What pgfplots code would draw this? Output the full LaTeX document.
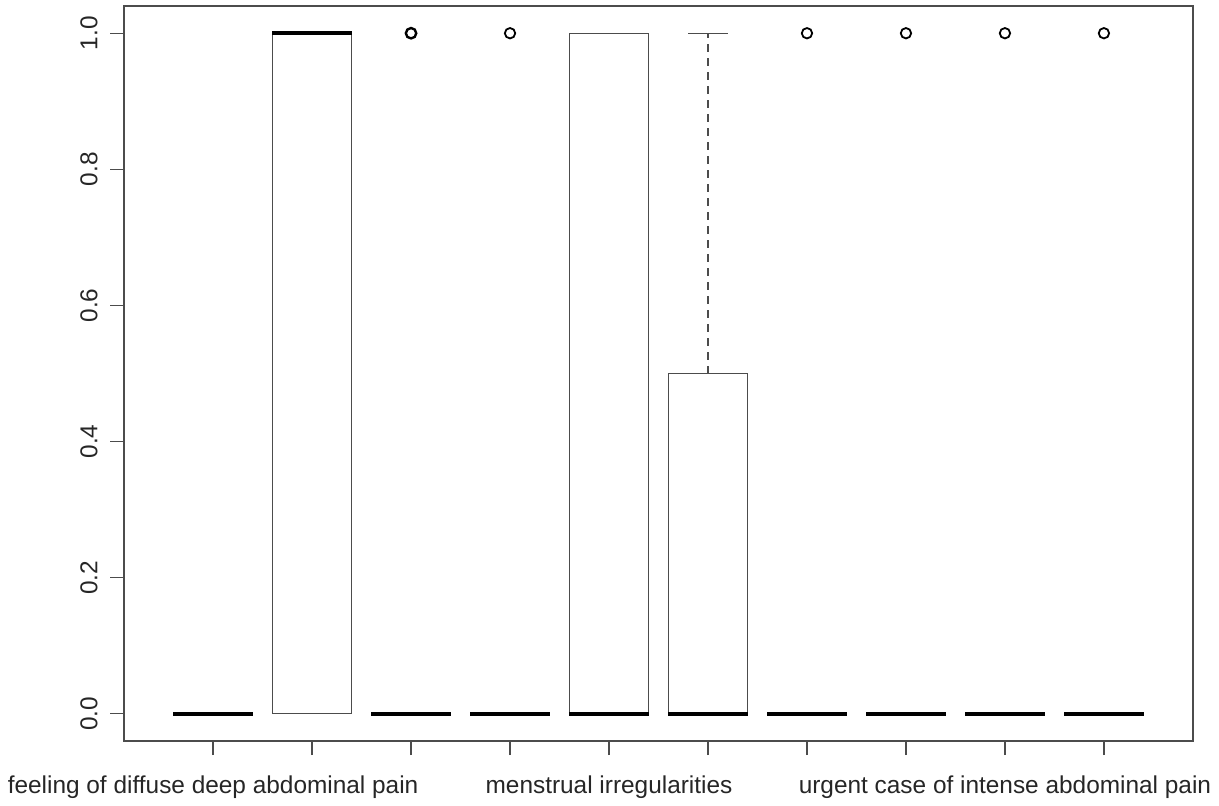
\documentclass[border=0pt]{standalone}
\usepackage{fontspec}
\setmainfont{Liberation Sans}
\usepackage{pgfplots}
\pgfplotsset{compat=1.18}
\definecolor{rline}{gray}{0.3}
\begin{document}
\begin{tikzpicture}
\useasboundingbox (-62pt,-32pt) rectangle (547.5pt,370.5pt);
\begin{axis}[
  at={(0pt,0pt)}, anchor=south west,
  scale only axis, width=534.5pt, height=367.5pt,
  xmin=0.1, xmax=10.9, ymin=-0.04, ymax=1.04,
  axis line style={rline, line width=0.6pt},
  tick style={rline, line width=0.6pt},
  tick align=outside, tick pos=left,
  major tick length=7pt,
  xtick={1,2,3,4,5,6,7,8,9,10},
  xticklabels={feeling of diffuse deep abdominal pain,,,,menstrual irregularities,,,,urgent case of intense abdominal pain,},
  ytick={0,0.2,0.4,0.6,0.8,1.0},
  yticklabels={0.0,0.2,0.4,0.6,0.8,1.0},
  every tick label/.append style={font=\fontsize{12.2pt}{14pt}\selectfont, text=black!85},
  xticklabel style={yshift=-7pt},
  yticklabel style={rotate=90, anchor=south, inner sep=6pt},
  /pgf/number format/assume math mode=true,
  clip=false,
]
% boxes
\addplot[rline, line width=0.6pt] coordinates {(1.6,0) (2.4,0) (2.4,1) (1.6,1) (1.6,0)};
\addplot[rline, line width=0.6pt] coordinates {(4.6,0) (5.4,0) (5.4,1) (4.6,1) (4.6,0)};
\addplot[rline, line width=0.6pt] coordinates {(5.6,0) (6.4,0) (6.4,0.5) (5.6,0.5) (5.6,0)};
% whisker (box 6)
\addplot[rline, line width=0.6pt, dash pattern=on 4pt off 3pt] coordinates {(6,0.5) (6,1)};
\addplot[rline, line width=0.6pt] coordinates {(5.8,1) (6.2,1)};
% medians
\addplot[black, line width=2pt, unbounded coords=jump] coordinates {
 (0.6,0) (1.4,0) (nan,nan)
 (1.6,1) (2.4,1) (nan,nan)
 (2.6,0) (3.4,0) (nan,nan)
 (3.6,0) (4.4,0) (nan,nan)
 (4.6,0) (5.4,0) (nan,nan)
 (5.6,0) (6.4,0) (nan,nan)
 (6.6,0) (7.4,0) (nan,nan)
 (7.6,0) (8.4,0) (nan,nan)
 (8.6,0) (9.4,0) (nan,nan)
 (9.6,0) (10.4,0)
};
% outliers
\addplot[only marks, mark=o, mark size=2.6pt, mark options={black, line width=0.9pt}] coordinates {(4,1) (7,1) (8,1) (9,1) (10,1)};
\addplot[only marks, mark=o, mark size=2.6pt, mark options={black, line width=1.2pt}] coordinates {(3,1)};
\end{axis}
\end{tikzpicture}
\end{document}
